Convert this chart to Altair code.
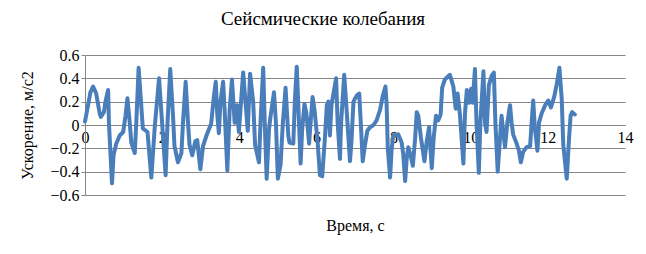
import altair as alt
import pandas as pd

time_s = [0.00, 0.08, 0.14, 0.21, 0.29, 0.38, 0.41, 0.49, 0.53, 0.60, 0.62, 0.70, 0.74, 0.81, 0.90, 0.99,
          1.05, 1.10, 1.16, 1.20, 1.29, 1.33, 1.39, 1.46, 1.50, 1.62, 1.72, 1.81, 1.92, 1.98, 2.09, 2.14,
          2.21, 2.28, 2.32, 2.41, 2.50, 2.54, 2.61, 2.67, 2.71, 2.78, 2.86, 2.91, 2.99, 3.06, 3.15, 3.27,
          3.34, 3.39, 3.43, 3.47, 3.51, 3.58, 3.62, 3.69, 3.75, 3.81, 3.88, 3.94, 3.99, 4.05, 4.10, 4.18,
          4.22, 4.28, 4.36, 4.41, 4.51, 4.55, 4.62, 4.66, 4.71, 4.77, 4.80, 4.90, 4.95, 5.00, 5.07, 5.13,
          5.20, 5.27, 5.30, 5.40, 5.44, 5.49, 5.53, 5.59, 5.63, 5.69, 5.74, 5.81, 5.86, 5.90, 5.95, 6.03,
          6.09, 6.15, 6.22, 6.27, 6.31, 6.35, 6.39, 6.51, 6.55, 6.61, 6.64, 6.72, 6.78, 6.87, 6.91, 6.96,
          7.04, 7.11, 7.15, 7.20, 7.26, 7.32, 7.39, 7.48, 7.56, 7.65, 7.72, 7.79, 7.82, 7.85, 7.91, 7.95,
          7.99, 8.12, 8.21, 8.25, 8.30, 8.34, 8.38, 8.44, 8.50, 8.56, 8.60, 8.64, 8.71, 8.80, 8.86, 8.92,
          8.94, 8.99, 9.04, 9.10, 9.16, 9.22, 9.26, 9.33, 9.46, 9.55, 9.61, 9.66, 9.72, 9.81, 9.85, 9.90,
          9.96, 10.01, 10.05, 10.11, 10.15, 10.21, 10.25, 10.33, 10.37, 10.41, 10.47, 10.54, 10.60, 10.64, 10.70, 10.76,
          10.80, 10.84, 10.89, 10.95, 11.02, 11.06, 11.10, 11.19, 11.25, 11.30, 11.36, 11.45, 11.54, 11.58, 11.62, 11.66,
          11.73, 11.77, 11.84, 11.93, 12.01, 12.08, 12.17, 12.23, 12.30, 12.36, 12.40, 12.49, 12.55, 12.59, 12.63, 12.70]
accel = [0.03, 0.17, 0.28, 0.33, 0.27, 0.10, 0.07, 0.11, 0.20, 0.30, 0.02, -0.50, -0.26, -0.16, -0.09, -0.06,
         0.08, 0.23, 0.02, -0.15, -0.24, 0.02, 0.49, 0.16, -0.03, -0.06, -0.45, -0.01, 0.40, 0.11, -0.43, 0.02,
         0.48, 0.09, -0.18, -0.32, -0.24, 0.02, 0.37, 0.02, -0.17, -0.26, -0.14, -0.13, -0.38, -0.18, -0.09, 0.01,
         0.24, 0.37, 0.09, -0.07, 0.19, 0.37, 0.13, -0.39, 0.13, 0.39, 0.02, 0.17, -0.06, 0.22, 0.45, 0.12,
         -0.05, 0.44, 0.20, -0.17, -0.32, 0.02, 0.49, 0.02, -0.46, -0.04, 0.05, 0.28, 0.02, -0.46, -0.34, 0.02,
         0.32, -0.09, -0.15, -0.16, 0.20, 0.50, 0.17, -0.33, -0.04, 0.18, 0.10, -0.16, 0.07, 0.24, 0.13, -0.14,
         -0.43, -0.44, -0.11, 0.17, 0.20, -0.09, 0.17, 0.40, 0.02, -0.29, 0.02, 0.43, 0.14, -0.31, -0.13, 0.20,
         0.25, 0.27, 0.02, -0.31, -0.17, -0.05, -0.02, 0.00, 0.04, 0.13, 0.25, 0.33, 0.17, -0.20, -0.45, -0.21,
         -0.09, -0.08, -0.15, -0.25, -0.48, -0.29, -0.19, -0.26, -0.35, -0.11, 0.11, 0.08, -0.11, -0.31, -0.14, -0.02,
         -0.12, -0.37, -0.11, 0.08, 0.04, 0.09, 0.32, 0.39, 0.43, 0.33, 0.14, 0.27, 0.09, -0.33, 0.09, 0.30,
         0.19, 0.31, 0.19, 0.48, 0.02, -0.41, 0.02, 0.46, 0.02, -0.06, 0.34, 0.42, 0.45, 0.02, -0.40, -0.11,
         0.08, -0.05, -0.19, 0.02, 0.17, 0.02, -0.08, -0.16, -0.22, -0.32, -0.23, -0.19, -0.18, 0.02, 0.21, -0.01,
         -0.22, 0.02, 0.10, 0.17, 0.21, 0.15, 0.25, 0.35, 0.49, 0.22, -0.17, -0.46, -0.11, 0.08, 0.11, 0.09]

x_ticks = [0, 2, 4, 6, 8, 10, 12, 14]
y_ticks = [-0.6, -0.4, -0.2, 0, 0.2, 0.4, 0.6]

df = pd.DataFrame({"t": time_s, "a": accel})

FONT = "Liberation Serif"
GRID = "#868686"

chart = alt.Chart(df).mark_line(
    color="#4A7EBB", strokeWidth=4, strokeJoin="round", strokeCap="round"
).encode(
    x=alt.X("t:Q", scale=alt.Scale(domain=[0, 14], nice=False),
            axis=alt.Axis(values=x_ticks, title="Время, с", grid=False, offset=-70,
                          domainColor=GRID, ticks=False, labelPadding=4,
                          labelFont=FONT, labelFontSize=16, labelColor="#000000",
                          titleFont=FONT, titleFontSize=16, titleFontWeight="normal",
                          titleColor="#000000", titleY=92, labelFlush=False)),
    y=alt.Y("a:Q", scale=alt.Scale(domain=[-0.6, 0.6], nice=False),
            axis=alt.Axis(values=y_ticks, title="Ускорение, м/с2", grid=True, gridColor=GRID,
                          domainColor=GRID, tickColor=GRID, tickSize=4, labelPadding=2,
                          labelFont=FONT, labelFontSize=16, labelColor="#000000",
                          titleFont=FONT, titleFontSize=16, titleFontWeight="normal",
                          titleColor="#000000", titleX=-50, labelFlush=False,
                          format=".1~f"))
).properties(
    width=540, height=140,
    title=alt.TitleParams("Сейсмические колебания", font=FONT, fontSize=19, fontWeight="normal",
                          color="#000000", anchor="middle", dx=-32, offset=18),
    autosize=alt.AutoSizeParams(type="none"),
    padding={"left": 85, "top": 55, "right": 21, "bottom": 59}
).configure_view(stroke=None)

chart.save("out.html", embed_options={"renderer": "svg", "actions": False})
